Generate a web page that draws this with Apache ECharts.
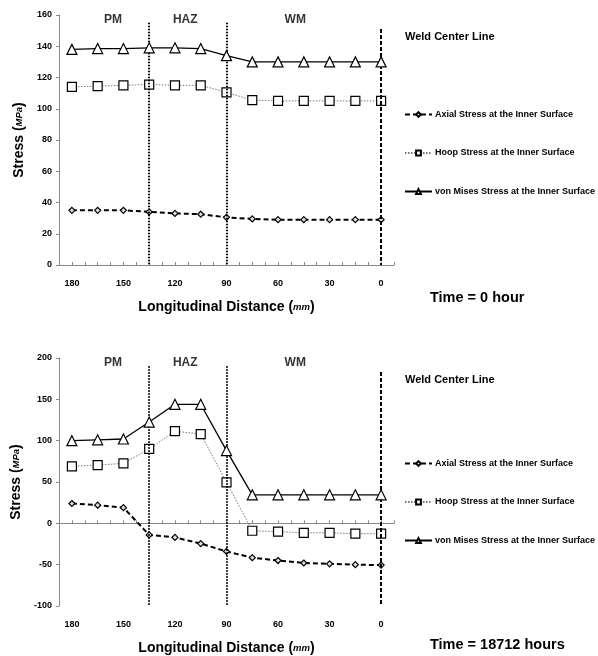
<!DOCTYPE html>
<html><head><meta charset="utf-8">
<script src="https://cdn.jsdelivr.net/npm/echarts@6/dist/echarts.min.js"></script>
<style>html,body{margin:0;padding:0;background:#fff}#c{width:598px;height:656px}</style>
</head><body><div id="c"></div>
<script>
const distance = [180,165,150,135,120,105,90,75,60,45,30,15,0];
const axial0 = [35,35,35,34,33,32.5,30.5,29.5,29,29,29,29,29];
const hoop0 = [114,114.5,115,115.5,115,115,110.5,105.5,105,105,105,105,105];
const mises0 = [138,138.5,138.5,139,139,138.5,134,130,130,130,130,130,130];
const axial1 = [24,22,19,-14,-17,-24.5,-34,-41.5,-45,-48,-49,-50,-50.5];
const hoop1 = [69,70.5,72.5,90,111.5,108,49.5,-9,-10,-11.5,-11.5,-12.5,-12.5];
const mises1 = [100,101,102,122.5,144,144,88,34.5,34.5,34.5,34.5,34.5,34.5];
const zoneBounds = [135,90];
const weldCenter = 0;
const zoneNames = ['PM','HAZ','WM'];
const zoneX = [156,114,50];
const names = ['Axial Stress at the Inner Surface','Hoop Stress at the Inner Surface','von Mises Stress at the Inner Surface'];
const timeLabels = ['Time = 0 hour','Time = 18712 hours'];

const F = 'Liberation Sans, Arial, sans-serif';
const chart = echarts.init(document.getElementById('c'));

const grids = [
  {left:59, right:204, top:15, height:250},
  {left:59, right:204, top:358, height:248}
];
const yCfg = [
  {min:0,max:160,interval:20, top:155, dash:151, zoneY:157},
  {min:-100,max:200,interval:50, top:190, dash:183, zoneY:194}
];

const xAxes = [], yAxes = [], series = [];
function pair(a){ return distance.map((d,i)=>[d,a[i]]); }
const nameRich = {b:{fontFamily:F,fontWeight:'bold',fontSize:14,color:'#000'},
      i:{fontFamily:F,fontWeight:'bold',fontSize:14,color:'#000'},
      m:{fontFamily:F,fontWeight:'bold',fontStyle:'italic',fontSize:9.5,color:'#000'}};

[0,1].forEach(g=>{
  const base = {gridIndex:g, type:'value', min:-7.5, max:187.5, interval:7.5, inverse:true};
  xAxes.push(Object.assign({}, base, {
    position:'bottom',
    axisLine:{show:false, onZero:false}, axisTick:{show:false}, splitLine:{show:false},
    axisLabel:{color:'#000', fontFamily:F, fontWeight:'bold', fontSize:9, margin:14,
      formatter:v=> (Math.abs(v % 30) < 1e-6 && v>=0 && v<=180) ? String(v) : ''},
    name:'{b|Longitudinal Distance }{i|(}{m|mm}{i|)}', nameLocation:'middle', nameGap:35,
    nameTextStyle:{rich:nameRich}
  }));
  xAxes.push(Object.assign({}, base, {
    position:'bottom',
    axisLine:{show:true, onZero:true, lineStyle:{color:'#888',width:1}},
    axisTick:{show:true, inside:true, length:3, lineStyle:{color:'#888'}},
    axisLabel:{show:false}, splitLine:{show:false}
  }));
  yAxes.push({gridIndex:g, type:'value', min:yCfg[g].min, max:yCfg[g].max, interval:yCfg[g].interval,
    axisLine:{show:true, onZero:false, lineStyle:{color:'#888'}}, axisTick:{show:true, length:3, lineStyle:{color:'#888'}},
    splitLine:{show:false},
    axisLabel:{color:'#000', fontFamily:F, fontWeight:'bold', fontSize:9, margin:7},
    name:'{b|Stress }{i|(}{m|MPa}{i|)}', nameLocation:'middle', nameGap:33, nameRotate:90,
    nameTextStyle:{rich:nameRich}
  });
});

const dataSets = [[axial0,hoop0,mises0],[axial1,hoop1,mises1]];
[0,1].forEach(g=>{
  const xi = g*2;
  series.push({name:names[0], type:'line', xAxisIndex:xi, yAxisIndex:g, data:pair(dataSets[g][0]),
    symbol:'diamond', symbolSize:6, itemStyle:{color:'#ddd', borderColor:'#000', borderWidth:1.2},
    lineStyle:{color:'#000', width:2, type:[5,3]}, z:3,
    markLine:{silent:true, symbol:'none', label:{show:false},
      data:[
        [{coord:[zoneBounds[0],yCfg[g].top], lineStyle:{type:[1.5,1.5],width:2,color:'#000'}},{coord:[zoneBounds[0],yCfg[g].min]}],
        [{coord:[zoneBounds[1],yCfg[g].top], lineStyle:{type:[1.5,1.5],width:2,color:'#000'}},{coord:[zoneBounds[1],yCfg[g].min]}],
        [{coord:[weldCenter,yCfg[g].dash], lineStyle:{type:[4,2],width:2,color:'#000'}},{coord:[weldCenter,yCfg[g].min]}]
      ]}
  });
  series.push({name:names[1], type:'line', xAxisIndex:xi, yAxisIndex:g, data:pair(dataSets[g][1]),
    symbol:'rect', symbolSize:9, itemStyle:{color:'#fff', borderColor:'#000', borderWidth:1.2},
    lineStyle:{color:'#777', width:1, type:[1.5,1.5]}, z:4});
  series.push({name:names[2], type:'line', xAxisIndex:xi, yAxisIndex:g, data:pair(dataSets[g][2]),
    symbol:'triangle', symbolSize:10, itemStyle:{color:'#fff', borderColor:'#000', borderWidth:1.2},
    lineStyle:{color:'#000', width:1.3}, z:5});
  series.push({type:'scatter', xAxisIndex:xi, yAxisIndex:g, symbolSize:0, silent:true,
    data:zoneNames.map((n,i)=>({value:[zoneX[i], yCfg[g].zoneY], name:n})),
    label:{show:true, position:'inside', formatter:p=>p.name, color:'#000', fontFamily:F, fontWeight:'bold', fontSize:12}});
});

const legends = [0,1].map(g=>({
  orient:'vertical', left:404, top: g===0 ? 110 : 459, padding:0, itemGap:29.5, itemWidth:27, itemHeight:6,
  data:names, selectedMode:false,
  textStyle:{fontFamily:F, fontWeight:'bold', fontSize:9, color:'#000', padding:[0,0,0,-2]}
}));

const graphic = [
  {type:'text', left:405, top:31, style:{text:'Weld Center Line', font:'bold 11px '+F, fill:'#000'}},
  {type:'text', left:405, top:374, style:{text:'Weld Center Line', font:'bold 11px '+F, fill:'#000'}},
  {type:'text', left:430, top:290, style:{text:timeLabels[0], font:'bold 14.5px '+F, fill:'#000'}},
  {type:'text', left:430, top:637, style:{text:timeLabels[1], font:'bold 14.5px '+F, fill:'#000'}}
];

chart.setOption({animation:false, grid:grids, xAxis:xAxes, yAxis:yAxes, series:series, legend:legends, graphic:graphic});
</script></body></html>
